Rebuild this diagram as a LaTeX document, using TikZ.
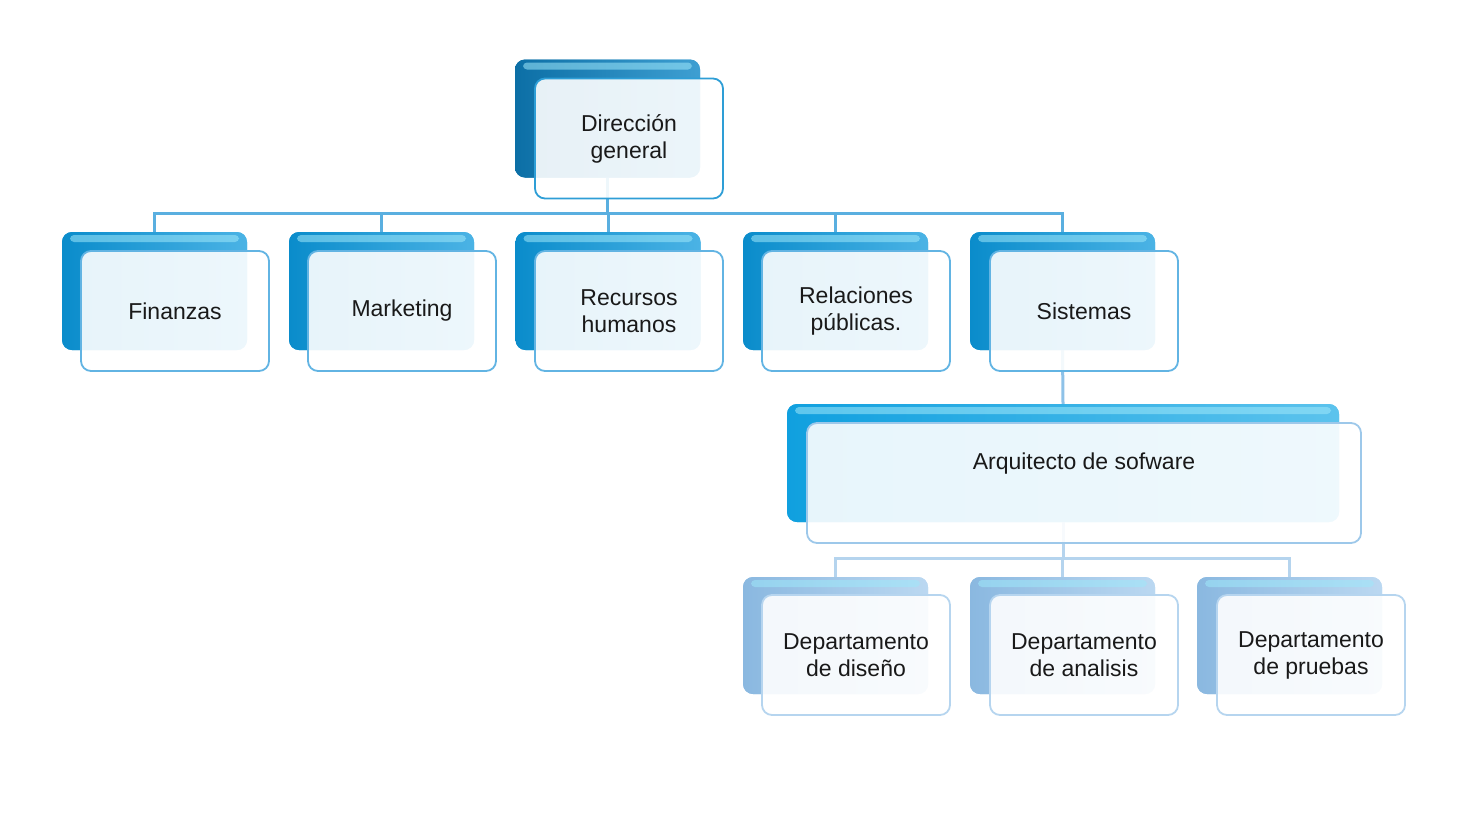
\documentclass[tikz,border=0pt]{standalone}
\usepackage{fontspec}
\setmainfont{Liberation Sans}
\definecolor{l1a}{HTML}{0C6FA6}
\definecolor{l1b}{HTML}{3E9FD2}
\definecolor{l2a}{HTML}{0A8CCB}
\definecolor{l2b}{HTML}{4BB3E5}
\definecolor{l3a}{HTML}{10A0DF}
\definecolor{l3b}{HTML}{5CC3ED}
\definecolor{l4a}{HTML}{8AB8E0}
\definecolor{l4b}{HTML}{BBD8F1}
\definecolor{f1}{HTML}{2E9ED6}
\definecolor{f2}{HTML}{62B4E3}
\definecolor{f3}{HTML}{9DC8EA}
\definecolor{f4}{HTML}{B6D5EF}
\definecolor{c1}{HTML}{5AAFE0}
\definecolor{c2}{HTML}{8EC2E8}
\definecolor{c3}{HTML}{B5D4EE}
\definecolor{gloss}{HTML}{9FE8FA}
\begin{document}
\begin{tikzpicture}[x=1pt,y=-1pt,
  backbox/.style={rounded corners=10pt, minimum width=185pt, minimum height=118pt, inner sep=0pt,
    path picture={\fill[gloss,opacity=.55,rounded corners=4pt] ([xshift=8pt,yshift=-3pt]path picture bounding box.north west) rectangle ([xshift=-8pt,yshift=-10pt]path picture bounding box.north east);}},
  bk1/.style={backbox, left color=l1a, right color=l1b},
  bk2/.style={backbox, left color=l2a, right color=l2b},
  bk3/.style={backbox, left color=l3a, right color=l3b},
  bk4/.style={backbox, left color=l4a, right color=l4b},
  frontbox/.style={rounded corners=10pt, fill=white, fill opacity=0.9, text opacity=1, line width=1.8pt,
    minimum width=188pt, minimum height=120pt, inner sep=0pt, align=center,
    font=\fontsize{23}{27}\selectfont, text=black!90},
  fr1/.style={frontbox, draw=f1},
  fr2/.style={frontbox, draw=f2},
  fr3/.style={frontbox, draw=f3},
  fr4/.style={frontbox, draw=f4},
  conn/.style={line width=3pt},
]
\useasboundingbox (0,0) rectangle (1463,812);
% back boxes (positioned first for connectors)
\path
  (607.5,118.5) node[bk1] (dirB) {}
  (154.5,291) node[bk2] (finB) {}
  (381.5,291) node[bk2] (marB) {}
  (608,291) node[bk2] (recB) {}
  (835.5,291) node[bk2] (relB) {}
  (1062.5,291) node[bk2] (sisB) {}
  (1063,463) node[bk3, minimum width=552pt] (arqB) {}
  (835.5,635.5) node[bk4, minimum height=117pt] (disB) {}
  (1062.5,635.5) node[bk4, minimum height=117pt] (anaB) {}
  (1289.5,635.5) node[bk4, minimum height=117pt] (pruB) {};
% connectors
\foreach \c in {finB,marB,recB,relB,sisB}
  \draw[conn,c1] (dirB.south) -- ([yshift=-36pt]dirB.south) -| (\c.north);
\draw[conn,c2] (sisB.south) -- (arqB.north);
\foreach \c in {disB,anaB,pruB}
  \draw[conn,c3] (arqB.south) -- ([yshift=-36pt]arqB.south) -| (\c.north);
% redraw back boxes over connectors
\path
  (607.5,118.5) node[bk1] {}
  (154.5,291) node[bk2] {}
  (381.5,291) node[bk2] {}
  (608,291) node[bk2] {}
  (835.5,291) node[bk2] {}
  (1062.5,291) node[bk2] {}
  (1063,463) node[bk3, minimum width=552pt] {}
  (835.5,635.5) node[bk4, minimum height=117pt] {}
  (1062.5,635.5) node[bk4, minimum height=117pt] {}
  (1289.5,635.5) node[bk4, minimum height=117pt] {};
% front boxes
\node[fr1] (dir) at (629,138.5) {Dirección\\general};
\node[fr2] (fin) at (175,311) {Finanzas};
\node[fr2] (mar) at (402,311) {Marketing};
\node[fr2] (rec) at (629,311) {Recursos\\humanos};
\node[fr2] (rel) at (856,311) {Relaciones\\públicas.};
\node[fr2] (sis) at (1084,311) {Sistemas};
\node[fr3, minimum width=554pt, label={[font=\fontsize{23}{27}\selectfont, text=black!90, yshift=19pt]center:Arquitecto de sofware}] (arq) at (1084,483) {};
\node[fr4] (dis) at (856,655) {Departamento\\de diseño};
\node[fr4] (ana) at (1084,655) {Departamento\\de analisis};
\node[fr4] (pru) at (1311,655) {Departamento\\de pruebas};
\end{tikzpicture}
\end{document}
